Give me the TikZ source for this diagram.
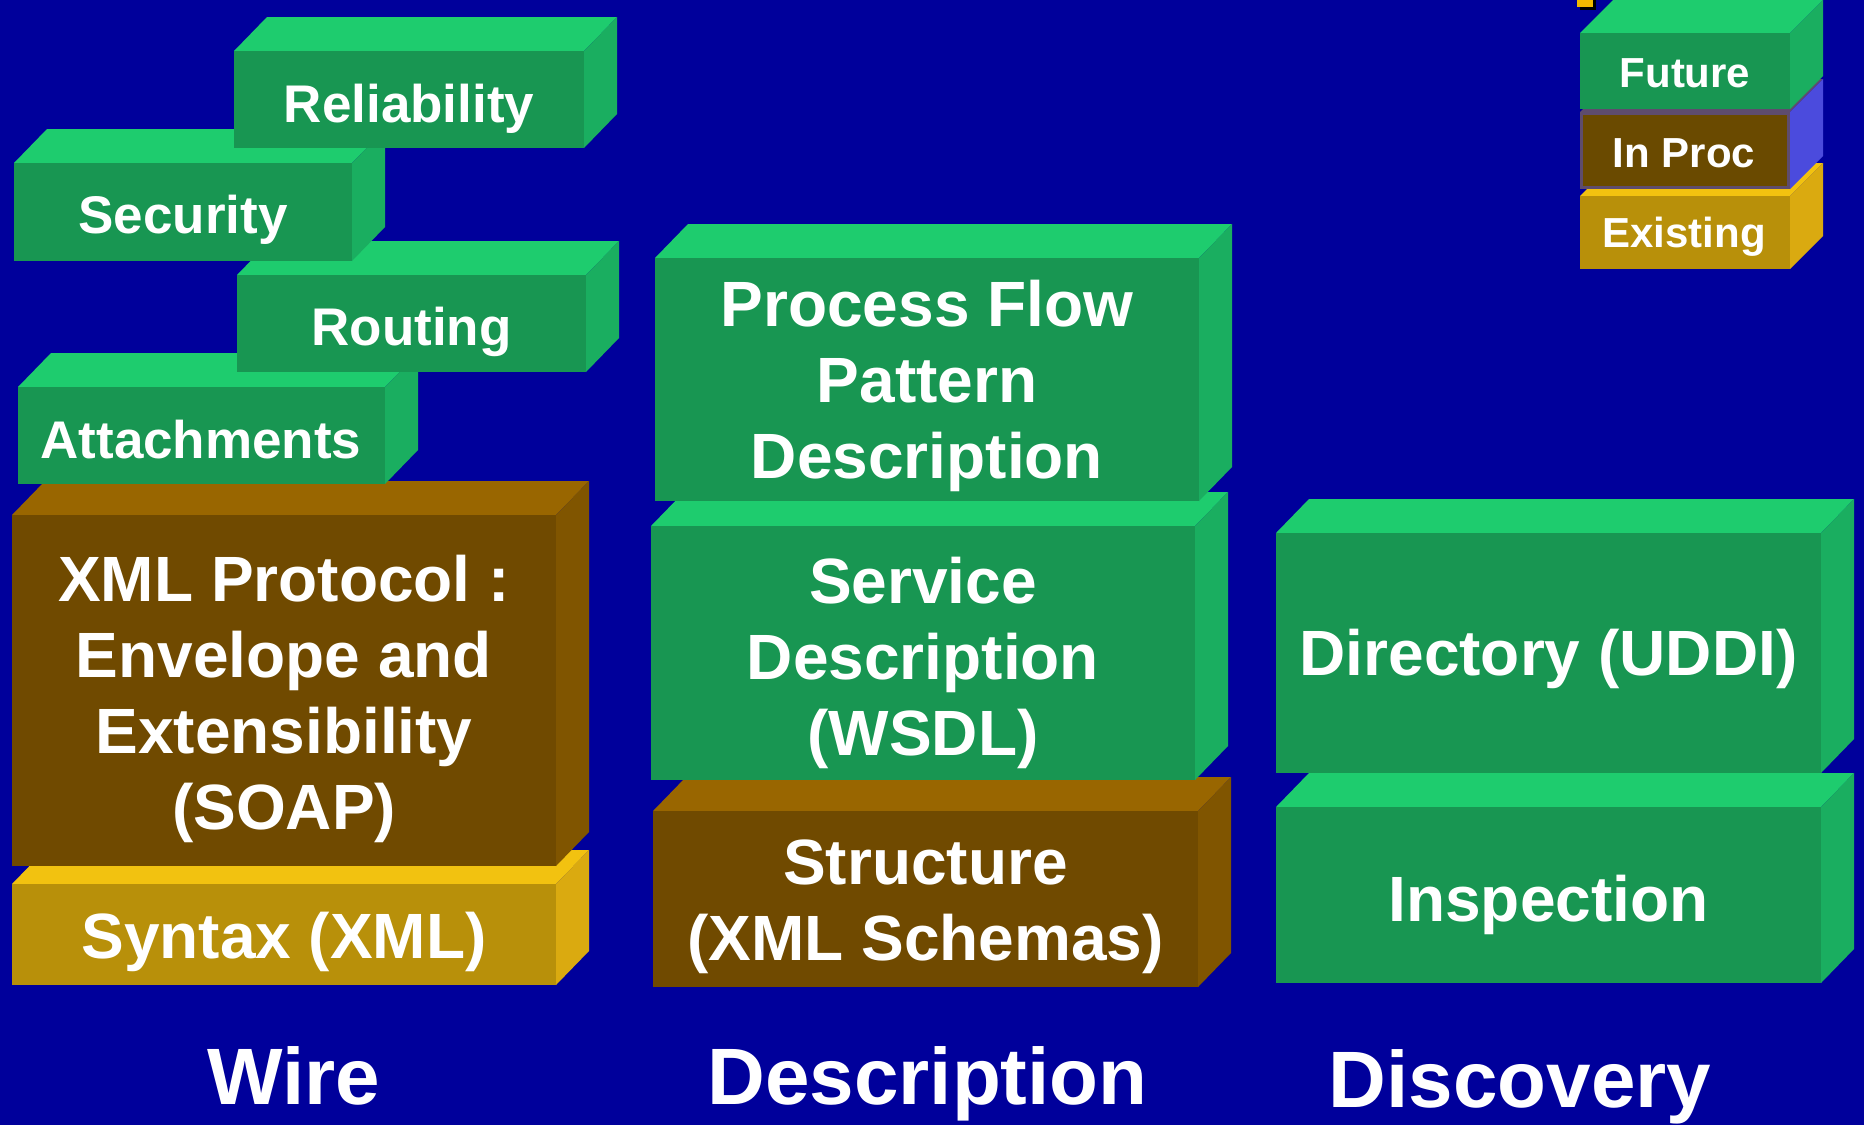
\documentclass[tikz,border=0pt]{standalone}
\usepackage{fontspec}
\setmainfont{Liberation Sans}
\definecolor{bgc}{HTML}{00009B}
\definecolor{gF}{HTML}{189652}
\definecolor{gT}{HTML}{1ECC6E}
\definecolor{gS}{HTML}{1AAE60}
\definecolor{bF}{HTML}{704A00}
\definecolor{bT}{HTML}{996600}
\definecolor{bS}{HTML}{805500}
\definecolor{yF}{HTML}{B8900A}
\definecolor{yT}{HTML}{F2C210}
\definecolor{yS}{HTML}{DAAA10}
\definecolor{pF}{HTML}{6A4A00}
\definecolor{pT}{HTML}{5E4C6E}
\definecolor{pS}{HTML}{4B4BDD}
\definecolor{pE}{HTML}{5E4C6E}
\definecolor{bul}{HTML}{F2B800}
% x1 y1 x2 y2 colourprefix dx dy
\newcommand\cubebox[7]{%
  \fill[#5T] (#1,#2) -- (#1+#6,#2-#7) -- (#3+#6,#2-#7) -- (#3,#2) -- cycle;
  \fill[#5S] (#3,#2) -- (#3+#6,#2-#7) -- (#3+#6,#4-#7) -- (#3,#4) -- cycle;
  \fill[#5F] (#1,#2) rectangle (#3,#4);
}
\begin{document}
\begin{tikzpicture}[x=1pt,y=-1pt,
  lbl/.style={text=white,inner sep=0pt},
  fsmall/.style={lbl,font=\fontsize{53}{62}\selectfont\bfseries},
  fbig/.style={lbl,align=center,font=\fontsize{64}{76}\selectfont\bfseries},
  fbigone/.style={lbl,font=\fontsize{64}{76}\selectfont\bfseries},
  flegend/.style={lbl,font=\fontsize{42}{50}\selectfont\bfseries},
  fhead/.style={lbl,font=\fontsize{80}{90}\selectfont\bfseries}]
\fill[bgc] (0,0) rectangle (1864,1125);
\useasboundingbox (0,0) rectangle (1864,1125);

% ---------- Wire column ----------
\cubebox{12}{884}{556}{985}{y}{33}{34}
\node[fbigone,anchor=base] (syntax) at (284,958) {Syntax (XML)};
\cubebox{12}{515}{556}{866}{b}{33}{34}
\node[fbig] (soap) at (284,699) {XML Protocol :\\Envelope and\\Extensibility\\(SOAP)};
\cubebox{18}{387}{385}{484}{g}{33}{34}
\node[fsmall,anchor=base] (attach) at (201,458) {Attachments};
\cubebox{237}{275}{586}{372}{g}{33}{34}
\node[fsmall,anchor=base] (routing) at (411.5,345) {Routing};
\cubebox{14}{163}{352}{261}{g}{33}{34}
\node[fsmall,anchor=base] (security) at (183,233) {Security};
\cubebox{234}{51}{584}{148}{g}{33}{34}
\node[fsmall,anchor=base] (reliab) at (409,122) {Reliability};

% ---------- Description column ----------
\cubebox{653}{811}{1198}{987}{b}{33}{34}
\node[fbig] (struct) at (925.5,907) {Structure\\(XML Schemas)};
\cubebox{651}{526}{1195}{780}{g}{33}{34}
\node[fbig] (wsdl) at (923,662.5) {Service\\Description\\(WSDL)};
\cubebox{655}{258}{1199}{501}{g}{33}{34}
\node[fbig] (process) at (927,386) {Process Flow\\Pattern\\Description};

% ---------- Discovery column ----------
\cubebox{1276}{807}{1821}{983}{g}{33}{34}
\node[fbigone,anchor=base] (inspect) at (1548.5,921) {Inspection};
\cubebox{1276}{533}{1821}{773}{g}{33}{34}
\node[fbigone,anchor=base] (uddi) at (1548.5,675) {Directory (UDDI)};

% ---------- Legend ----------
\fill[black] (1580,0) rectangle (1596,10);
\fill[bul] (1577,0) rectangle (1593,7);
\cubebox{1580}{196}{1790}{269}{y}{33}{33}
\node[flegend,anchor=base] (existing) at (1684,247) {Existing};
\cubebox{1580}{112}{1790}{189}{p}{33}{33}
\draw[pE,line width=3pt] (1581.5,113.5) rectangle (1788.5,187.5);
\node[flegend,anchor=base] (inproc) at (1684,167) {In Proc};
\cubebox{1580}{33}{1790}{109}{g}{33}{33}
\node[flegend,anchor=base] (future) at (1685,87) {Future};

% ---------- Column headings ----------
\node[fhead,anchor=base] (wire) at (294,1104) {Wire};
\node[fhead,anchor=base] (descr) at (927.5,1104) {Description};
\node[fhead,anchor=base] (disc) at (1520,1107) {Discovery};
\end{tikzpicture}
\end{document}
